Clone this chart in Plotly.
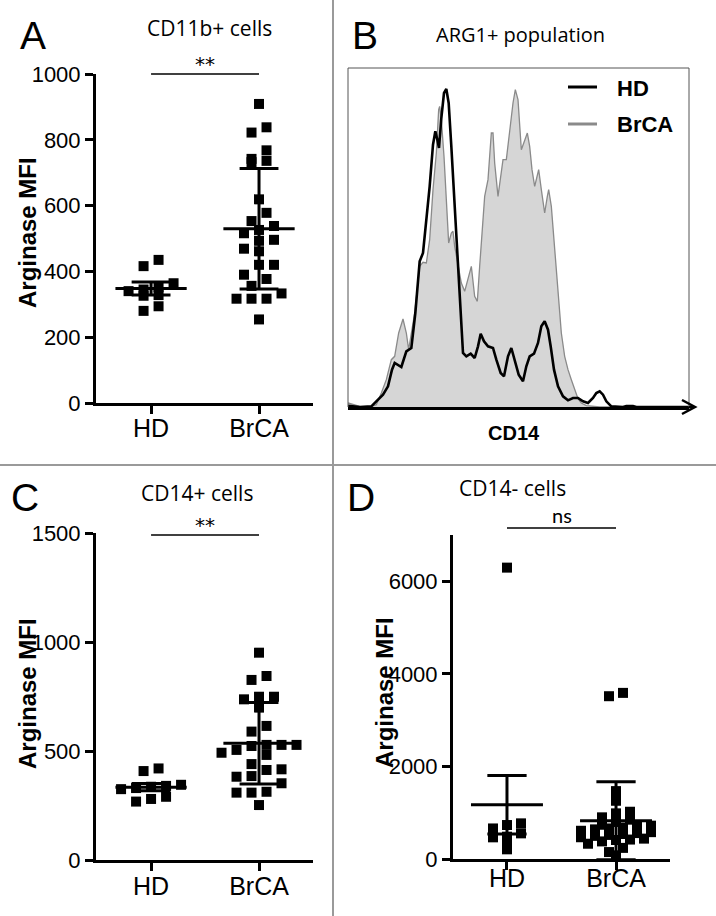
import plotly.graph_objects as go

W, H = 716, 916

# ---------------- data ----------------
categories = ["HD", "BrCA"]
cat_pos = [1, 2]

# Panel A: CD11b+ cells (Arginase MFI)
a_hd = [435, 416, 364, 352, 345, 340, 328, 326, 294, 280]
a_brca = [909, 838, 822, 768, 742, 736, 732, 619, 578, 553, 538, 526, 516, 496,
          493, 469, 461, 420, 420, 390, 377, 356, 333, 317, 317, 317, 254]
a_err = [20, 183]

# Panel C: CD14+ cells
c_hd = [420, 408, 345, 340, 336, 330, 325, 290, 280, 268]
c_brca = [951, 844, 826, 749, 749, 737, 699, 615, 589, 528, 528, 528, 523, 505,
          492, 482, 440, 416, 413, 385, 382, 352, 313, 309, 309, 252]
c_err = [17, 187]

# Panel D: CD14- cells
d_hd = [6295, 770, 734, 660, 554, 482, 468, 374, 209]
d_brca = [3589, 3517, 1467, 1258, 1021, 986, 900, 850, 800, 740, 720, 700, 680,
          660, 640, 610, 580, 560, 540, 520, 500, 470, 440, 420, 410, 380, 330,
          240, 150, 80]
d_err = [633, 844]

# Panel B: ARG1+ population, CD14 histogram (channel, count)
b_hd_x = [0, 35, 70, 85, 105, 120, 132, 140, 160, 175, 190, 202, 215, 225, 235,
          245, 255, 262, 268, 273, 280, 288, 295, 302, 310, 318, 325, 332, 340,
          345, 355, 368, 380, 390, 398, 408, 420, 435, 445, 458, 468, 480, 490,
          500, 512, 525, 535, 545, 558, 570, 580, 590, 600, 608, 618, 630, 645,
          660, 675, 690, 705, 720, 735, 745, 755, 765, 775, 790, 815, 825, 835,
          855, 865, 1023]
b_hd_y = [4, 0, 2, 17, 37, 62, 112, 132, 120, 167, 177, 282, 437, 462, 562,
          662, 787, 827, 802, 777, 867, 942, 954, 912, 782, 642, 502, 362, 222,
          162, 152, 160, 147, 182, 220, 197, 182, 177, 142, 102, 92, 152, 177,
          142, 97, 77, 122, 152, 160, 192, 242, 257, 232, 182, 112, 62, 32,
          20, 27, 27, 17, 12, 27, 42, 47, 37, 17, 2, 0, 0, 3, 3, 0, 0]

b_brca_x = [0, 15, 35, 65, 85, 100, 115, 130, 140, 152, 165, 175, 182, 200, 215,
            225, 235, 245, 255, 265, 272, 275, 280, 288, 295, 302, 310, 315, 320,
            330, 340, 350, 360, 370, 380, 388, 395, 402, 410, 420, 430, 435, 440,
            450, 458, 465, 475, 485, 495, 502, 510, 520, 530, 538, 545, 552, 560,
            565, 572, 580, 590, 598, 602, 610, 620, 630, 640, 650, 660, 670, 680,
            690, 700, 715, 755, 1023]
b_brca_y = [12, 7, 2, 0, 7, 42, 82, 142, 152, 222, 264, 222, 172, 282, 422,
            434, 432, 502, 652, 762, 892, 902, 862, 752, 632, 492, 522, 527, 482,
            422, 372, 347, 382, 422, 332, 317, 422, 532, 632, 682, 822, 822, 732,
            632, 692, 742, 742, 832, 912, 952, 922, 772, 802, 822, 782, 712, 662,
            682, 712, 652, 582, 632, 652, 602, 482, 342, 222, 152, 112, 82, 52,
            25, 12, 4, 0, 0]

# ---------------- layout geometry (pixels) ----------------
def px_x(px):
    return px / W

def px_y(py):
    return 1 - py / H

axes_px = {
    "A": dict(x=(96, 313), y=(74, 403), xr=[0.49, 2.5], yr=[0, 1000],
              yt=[0, 200, 400, 600, 800, 1000], standoff=-7),
    "C": dict(x=(96, 313), y=(533, 860), xr=[0.49, 2.5], yr=[0, 1500],
              yt=[0, 500, 1000, 1500], standoff=-6),
    "D": dict(x=(453, 670), y=(535, 859), xr=[0.505, 2.495], yr=[0, 7000],
              yt=[0, 2000, 4000, 6000], standoff=-13),
}

AX_FONT = "Liberation Sans, Arial, sans-serif"
TITLE_FONT = "Open Sans, sans-serif"
SIG_FONT = "Lato, sans-serif"
STAR_FONT = "DejaVu Sans, sans-serif"


def swarm(values, center, py_per_unit, px_per_cat, row_px, step_px):
    order = sorted(range(len(values)), key=lambda i: -values[i])
    xs = [0.0] * len(values)
    rows, cur = [], []
    for i in order:
        if cur and (values[cur[0]] - values[i]) * py_per_unit >= row_px:
            rows.append(cur)
            cur = []
        cur.append(i)
    if cur:
        rows.append(cur)
    for row in rows:
        n = len(row)
        arranged = sorted(row, key=lambda i: values[i])
        for k, i in enumerate(arranged):
            xs[i] = center + (k - (n - 1) / 2) * step_px / px_per_cat
    return xs


fig = go.Figure()

panel_data = {
    "A": (a_hd, a_brca, a_err, "x", "y", 10, 15),
    "C": (c_hd, c_brca, c_err, "x3", "y3", 10, 15),
    "D": (d_hd, d_brca, d_err, "x4", "y4", 6, 14),
}

for key, (hd, br, err, xa, ya, row_px, step_px) in panel_data.items():
    g = axes_px[key]
    plot_w = g["x"][1] - g["x"][0]
    plot_h = g["y"][1] - g["y"][0]
    px_per_cat = plot_w / (g["xr"][1] - g["xr"][0])
    py_per_unit = plot_h / (g["yr"][1] - g["yr"][0])
    for k, vals in enumerate([hd, br]):
        xs = swarm(vals, cat_pos[k], py_per_unit, px_per_cat, row_px, step_px)
        fig.add_trace(go.Scatter(
            x=xs, y=vals, mode="markers", xaxis=xa, yaxis=ya,
            marker=dict(symbol="square", size=10, color="black", line=dict(width=0)),
            showlegend=False, hoverinfo="skip", cliponaxis=False))
    ex, ey = [], []
    for k, vals in enumerate([hd, br]):
        c = cat_pos[k]
        m = sum(vals) / len(vals)
        e = err[k]
        ex += [c - 0.33, c + 0.33, None, c, c, None,
               c - 0.18, c + 0.18, None, c - 0.18, c + 0.18, None]
        ey += [m, m, None, m - e, m + e, None,
               m + e, m + e, None, m - e, m - e, None]
    fig.add_trace(go.Scatter(x=ex, y=ey, mode="lines", xaxis=xa, yaxis=ya,
                             line=dict(color="black", width=3),
                             showlegend=False, hoverinfo="skip"))

# Panel B histograms
fig.add_trace(go.Scatter(x=b_brca_x, y=b_brca_y, mode="lines", xaxis="x2", yaxis="y2",
                         fill="tozeroy", fillcolor="#d6d6d6",
                         line=dict(color="#8a8a8a", width=1.3),
                         showlegend=False, hoverinfo="skip"))
fig.add_trace(go.Scatter(x=b_hd_x, y=b_hd_y, mode="lines", xaxis="x2", yaxis="y2",
                         line=dict(color="black", width=2.6),
                         showlegend=False, hoverinfo="skip"))

layout = dict(
    width=W, height=H, margin=dict(l=0, r=0, t=0, b=0, autoexpand=False),
    paper_bgcolor="white", plot_bgcolor="rgba(0,0,0,0)",
    showlegend=False,
)

axis_names = {"A": ("xaxis", "yaxis", "x", "y"),
              "C": ("xaxis3", "yaxis3", "x3", "y3"),
              "D": ("xaxis4", "yaxis4", "x4", "y4")}

for key, (xn, yn, xid, yid) in axis_names.items():
    g = axes_px[key]
    layout[xn] = dict(
        domain=[px_x(g["x"][0]), px_x(g["x"][1])], range=g["xr"], anchor=yid,
        tickvals=cat_pos, ticktext=categories, ticks="outside", ticklen=8,
        tickwidth=3, tickcolor="black", showline=True, linewidth=3,
        linecolor="black", showgrid=False, zeroline=False, automargin=False,
        ticklabelstandoff=g["standoff"],
        tickfont=dict(family=AX_FONT, size=25, color="black"), fixedrange=True)
    layout[yn] = dict(
        domain=[px_y(g["y"][1]), px_y(g["y"][0])], range=g["yr"], anchor=xid,
        tickvals=g["yt"], ticks="outside", ticklen=8, tickwidth=3,
        tickcolor="black", showline=True, linewidth=3, linecolor="black",
        showgrid=False, zeroline=False, automargin=False,
        tickfont=dict(family=AX_FONT, size=22, color="black"), fixedrange=True)

layout["xaxis2"] = dict(domain=[px_x(348), px_x(689)], range=[0, 1023], anchor="y2",
                        showline=True, linewidth=2.5, linecolor="black", automargin=False,
                        showticklabels=False, ticks="", showgrid=False, zeroline=False)
layout["yaxis2"] = dict(domain=[px_y(407), px_y(68)], range=[0, 1017], anchor="x2",
                        showline=False, showticklabels=False, ticks="", automargin=False,
                        showgrid=False, zeroline=False)

shapes = []
# panel dividers
shapes.append(dict(type="line", xref="paper", yref="paper", x0=px_x(333), x1=px_x(333),
                   y0=0, y1=1, line=dict(color="#9a9a9a", width=2)))
shapes.append(dict(type="line", xref="paper", yref="paper", x0=0, x1=1,
                   y0=px_y(465), y1=px_y(465), line=dict(color="#9a9a9a", width=2)))
# panel B box (left, top, right)
shapes.append(dict(type="path", xref="x2 domain", yref="y2 domain",
                   path="M0,0 L0,1 L1,1 L1,0", line=dict(color="#555555", width=1)))
ax_w, ax_h = 689 - 348, 407 - 68
def bx(px):
    return (px - 348) / ax_w
def by(py):
    return (407 - py) / ax_h
# arrow head for CD14 axis
shapes.append(dict(type="path", xref="x2 domain", yref="y2 domain",
                   path=f"M{bx(682)},{by(400)} L{bx(695)},{by(407)} L{bx(682)},{by(414)}",
                   line=dict(color="black", width=2.5)))
shapes.append(dict(type="line", xref="x2 domain", yref="y2 domain",
                   x0=1, x1=bx(694), y0=0, y1=0, line=dict(color="black", width=2.5)))
# legend lines in B
shapes.append(dict(type="line", xref="x2 domain", yref="y2 domain",
                   x0=bx(568), x1=bx(597), y0=by(87), y1=by(87),
                   line=dict(color="black", width=3)))
shapes.append(dict(type="line", xref="x2 domain", yref="y2 domain",
                   x0=bx(568), x1=bx(597), y0=by(124), y1=by(124),
                   line=dict(color="#8a8a8a", width=3)))

annotations = []
# significance bars: (x axis, y axis, line y [px], label, label centre y [px], size, font)
sig = {"A": ("x", "y", 74, "**", 64, 20, STAR_FONT),
       "C": ("x3", "y3", 535, "**", 525, 20, STAR_FONT),
       "D": ("x4", "y4", 528, "ns", 515, 20, SIG_FONT)}
for key, (xid, yid, line_py, label, text_py, fs, fam) in sig.items():
    g = axes_px[key]
    h = g["y"][1] - g["y"][0]
    shapes.append(dict(type="line", xref=xid, yref=f"{yid} domain",
                       x0=cat_pos[0], x1=cat_pos[1],
                       y0=(g["y"][1] - line_py) / h, y1=(g["y"][1] - line_py) / h,
                       line=dict(color="black", width=1.5)))
    annotations.append(dict(xref=xid, yref=f"{yid} domain", x=(cat_pos[0] + cat_pos[1]) / 2,
                            y=(g["y"][1] - text_py) / h, text=label, showarrow=False,
                            xanchor="center", yanchor="middle", borderpad=0,
                            font=dict(family=fam, size=fs, color="black")))


def ann(text, x, y, size, family, xanchor="center", angle=0, bold=False):
    if bold:
        text = f"<b>{text}</b>"
    annotations.append(dict(xref="paper", yref="paper", x=px_x(x), y=px_y(y),
                            text=text, showarrow=False, xanchor=xanchor,
                            yanchor="middle", textangle=angle, borderpad=0,
                            font=dict(family=family, size=size, color="black")))

# panel letters
ann("A", 19, 35, 39, AX_FONT, "left")
ann("B", 351, 35, 39, AX_FONT, "left")
ann("C", 10, 497, 39, AX_FONT, "left")
ann("D", 346, 497, 39, AX_FONT, "left")
# panel titles
ann("CD11b+ cells", 209, 28, 21, TITLE_FONT)
ann("ARG1+ population", 520, 34, 20, TITLE_FONT)
ann("CD14+ cells", 197, 493, 21, TITLE_FONT)
ann("CD14- cells", 512, 488, 21, TITLE_FONT)
# y axis titles
ann("Arginase MFI", 27, 233, 24, AX_FONT, angle=-90, bold=True)
ann("Arginase MFI", 27, 694, 24, AX_FONT, angle=-90, bold=True)
ann("Arginase MFI", 384, 693, 24, AX_FONT, angle=-90, bold=True)
# B axis title and legend
ann("CD14", 514, 433, 20, AX_FONT, bold=True)
ann("HD", 616, 89, 22, AX_FONT, "left", bold=True)
ann("BrCA", 616, 125, 22, AX_FONT, "left", bold=True)

layout["shapes"] = shapes
layout["annotations"] = annotations
fig.update_layout(**layout)
fig.write_html("out.html", config={"displayModeBar": False},
               post_script="document.body.style.margin='0';document.body.style.overflow='hidden';")
